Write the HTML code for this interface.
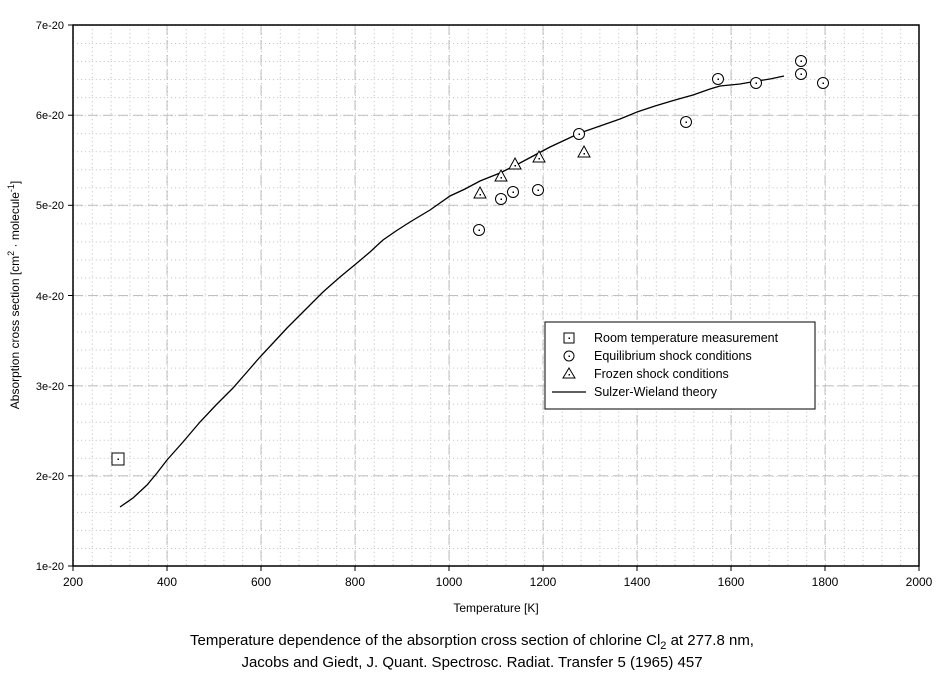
<!DOCTYPE html>
<html><head><meta charset="utf-8"><style>
html,body{margin:0;padding:0;background:#fff;}
svg{display:block;font-family:"Liberation Sans",Arial,sans-serif;}
</style></head><body>
<svg width="944" height="676" viewBox="0 0 944 676" xmlns="http://www.w3.org/2000/svg">
<defs>
<pattern id="mg" x="73" y="25" width="18.8" height="18.0333" patternUnits="userSpaceOnUse">
<line x1="0.5" y1="0" x2="0.5" y2="18.0333" stroke="#bbb" stroke-width="1" stroke-dasharray="1,3"/>
<line x1="0" y1="0.5" x2="18.8" y2="0.5" stroke="#bbb" stroke-width="1" stroke-dasharray="1,3"/>
</pattern>
</defs>
<rect x="73" y="25" width="846" height="541" fill="url(#mg)"/>
<g stroke="#c0c0c0" stroke-width="1" stroke-dasharray="10,5">
<line x1="167" y1="25" x2="167" y2="566"/><line x1="261" y1="25" x2="261" y2="566"/><line x1="355" y1="25" x2="355" y2="566"/><line x1="449" y1="25" x2="449" y2="566"/><line x1="543" y1="25" x2="543" y2="566"/><line x1="637" y1="25" x2="637" y2="566"/><line x1="731" y1="25" x2="731" y2="566"/><line x1="825" y1="25" x2="825" y2="566"/>
<line x1="73" y1="475.8" x2="919" y2="475.8"/><line x1="73" y1="385.7" x2="919" y2="385.7"/><line x1="73" y1="295.5" x2="919" y2="295.5"/><line x1="73" y1="205.3" x2="919" y2="205.3"/><line x1="73" y1="115.2" x2="919" y2="115.2"/>
</g>
<g stroke="#000" stroke-width="1">
<line x1="73" y1="566" x2="73" y2="571"/><line x1="167" y1="566" x2="167" y2="571"/><line x1="261" y1="566" x2="261" y2="571"/><line x1="355" y1="566" x2="355" y2="571"/><line x1="449" y1="566" x2="449" y2="571"/><line x1="543" y1="566" x2="543" y2="571"/><line x1="637" y1="566" x2="637" y2="571"/><line x1="731" y1="566" x2="731" y2="571"/><line x1="825" y1="566" x2="825" y2="571"/><line x1="919" y1="566" x2="919" y2="571"/>
<line x1="68" y1="566" x2="73" y2="566"/><line x1="68" y1="475.8" x2="73" y2="475.8"/><line x1="68" y1="385.7" x2="73" y2="385.7"/><line x1="68" y1="295.5" x2="73" y2="295.5"/><line x1="68" y1="205.3" x2="73" y2="205.3"/><line x1="68" y1="115.2" x2="73" y2="115.2"/><line x1="68" y1="25" x2="73" y2="25"/>
</g>
<g font-size="12" text-anchor="middle">
<text x="73" y="586">200</text><text x="167" y="586">400</text><text x="261" y="586">600</text><text x="355" y="586">800</text><text x="449" y="586">1000</text><text x="543" y="586">1200</text><text x="637" y="586">1400</text><text x="731" y="586">1600</text><text x="825" y="586">1800</text><text x="919" y="586">2000</text>
</g>
<g font-size="11" text-anchor="end">
<text x="64" y="570">1e-20</text><text x="64" y="480">2e-20</text><text x="64" y="390">3e-20</text><text x="64" y="300">4e-20</text><text x="64" y="209">5e-20</text><text x="64" y="119">6e-20</text><text x="64" y="29">7e-20</text>
</g>
<rect x="73" y="25" width="846" height="541" fill="none" stroke="#000" stroke-width="1.5"/>
<polyline fill="none" stroke="#000" stroke-width="1.3" points="120,507 133,498 147,485 157,473 167,460 183,442 200,422 216,405 233,388 247,372 260,357 274,342 287,328 305,310 323,292 340,277 357,263 370,252 383,240 396,231 410,222 430,210 450,196 465,189 480,181 500,173 520,163 535,155 550,147 565,140 580,133 600,126 620,119 637,112 655,106 675,100 693,95 710,89 720,86 740,84 757,81 770,79 784,76"/>
<rect x="112" y="453" width="12" height="12" fill="#fff" stroke="#000"/><rect x="117.5" y="458.5" width="1.5" height="1.5" fill="#000"/>
<g fill="#fff" stroke="#000">
<circle cx="479" cy="230" r="5.5"/><circle cx="501" cy="199" r="5.5"/><circle cx="513" cy="192" r="5.5"/><circle cx="538" cy="190" r="5.5"/><circle cx="579" cy="134" r="5.5"/><circle cx="686" cy="122" r="5.5"/><circle cx="718" cy="79" r="5.5"/><circle cx="756" cy="83" r="5.5"/><circle cx="801" cy="61" r="5.5"/><circle cx="801" cy="74" r="5.5"/><circle cx="823" cy="83" r="5.5"/>
<polygon points="480,187 486,198 474,198"/><polygon points="501,170 507,181 495,181"/><polygon points="515,158 521,169 509,169"/><polygon points="539,151 545,162 533,162"/><polygon points="584,146 590,157 578,157"/>
</g>
<g fill="#000">
<rect x="478.5" y="229.5" width="1.5" height="1.5"/><rect x="500.5" y="198.5" width="1.5" height="1.5"/><rect x="512.5" y="191.5" width="1.5" height="1.5"/><rect x="537.5" y="189.5" width="1.5" height="1.5"/><rect x="578.5" y="133.5" width="1.5" height="1.5"/><rect x="685.5" y="121.5" width="1.5" height="1.5"/><rect x="717.5" y="78.5" width="1.5" height="1.5"/><rect x="755.5" y="82.5" width="1.5" height="1.5"/><rect x="800.5" y="60.5" width="1.5" height="1.5"/><rect x="800.5" y="73.5" width="1.5" height="1.5"/><rect x="822.5" y="82.5" width="1.5" height="1.5"/>
<rect x="479.5" y="194" width="1.5" height="1.5"/><rect x="500.5" y="177" width="1.5" height="1.5"/><rect x="514.5" y="165" width="1.5" height="1.5"/><rect x="538.5" y="158" width="1.5" height="1.5"/><rect x="583.5" y="153" width="1.5" height="1.5"/>
</g>
<rect x="545" y="322" width="270" height="87" fill="#fff" stroke="#000"/>
<rect x="564" y="333" width="10" height="10" fill="#fff" stroke="#000"/><rect x="568.5" y="337.5" width="1.5" height="1.5" fill="#000"/>
<circle cx="569" cy="356" r="5" fill="#fff" stroke="#000"/><rect x="568.5" y="355.5" width="1.5" height="1.5" fill="#000"/>
<polygon points="569,368 575,378 563,378" fill="#fff" stroke="#000"/><rect x="568.5" y="374" width="1.5" height="1.5" fill="#000"/>
<line x1="552" y1="392" x2="586" y2="392" stroke="#000" stroke-width="1.3"/>
<g font-size="12.5">
<text x="594" y="342">Room temperature measurement</text>
<text x="594" y="360">Equilibrium shock conditions</text>
<text x="594" y="378">Frozen shock conditions</text>
<text x="594" y="396">Sulzer-Wieland theory</text>
</g>
<text x="496" y="612" font-size="12" text-anchor="middle">Temperature [K]</text>
<text transform="translate(19,295) rotate(-90)" font-size="12" text-anchor="middle">Absorption cross section [cm<tspan dy="-5" font-size="9">2</tspan><tspan dy="5"> · molecule</tspan><tspan dy="-5" font-size="9">-1</tspan><tspan dy="5">]</tspan></text>
<text x="472" y="645" font-size="15" text-anchor="middle">Temperature dependence of the absorption cross section of chlorine Cl<tspan dy="4" font-size="11">2</tspan><tspan dy="-4"> at 277.8 nm,</tspan></text>
<text x="472" y="667" font-size="15" text-anchor="middle">Jacobs and Giedt, J. Quant. Spectrosc. Radiat. Transfer 5 (1965) 457</text>
</svg>
</body></html>
